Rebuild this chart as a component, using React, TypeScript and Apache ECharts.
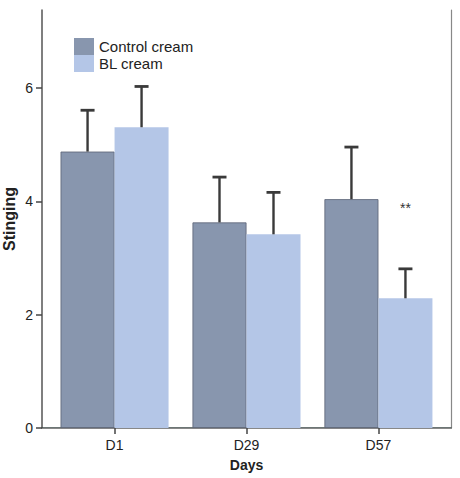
import React, { useEffect, useRef } from "react";
import * as echarts from "echarts";

const categories = ["D1", "D29", "D57"];
const categoryPositions = [1, 2, 3];
const seriesNames = ["Control cream", "BL cream"];
const controlMeans = [4.88, 3.63, 4.04];
const controlUpper = [5.61, 4.43, 4.96];
const blMeans = [5.31, 3.42, 2.29];
const blUpper = [6.03, 4.16, 2.81];
const blSignificance = ["", "", "**"];
const blSignificanceY = [0, 0, 3.88];
const yTicks = [0, 2, 4, 6];

const FONT = "'Liberation Sans', Arial, Helvetica, sans-serif";
const BAR_W = 54;
const COLORS = ["#8896ae", "#b4c6e7"];

export default function App() {
  const ref = useRef<HTMLDivElement>(null);
  useEffect(() => {
    document.body.style.margin = "0";
    const chart = echarts.init(ref.current!, null, { renderer: "svg" });

    const makeErr = (means: number[], upper: number[], side: number, sig: string[], sigY: number[]) => ({
      type: "custom",
      silent: true,
      z: 5,
      data: categoryPositions.map((x, i) => [x, means[i], upper[i], i]),
      encode: { x: 0, y: 2 },
      renderItem: (params: any, api: any) => {
        const x = api.value(0);
        const m = api.value(1);
        const u = api.value(2);
        const idx = api.value(3);
        const base = api.coord([x, m]);
        const top = api.coord([x, u]);
        const cx = base[0] + side * BAR_W / 2;
        const children: any[] = [
          { type: "line", shape: { x1: cx, y1: base[1], x2: cx, y2: top[1] }, style: { stroke: "#3a3a3a", lineWidth: 2.4 } },
          { type: "line", shape: { x1: cx - 7, y1: top[1], x2: cx + 7, y2: top[1] }, style: { stroke: "#3a3a3a", lineWidth: 2.8 } },
        ];
        if (sig[idx]) {
          const p = api.coord([x, sigY[idx]]);
          children.push({
            type: "text",
            style: { text: sig[idx], x: cx, y: p[1], align: "center", verticalAlign: "middle", fill: "#333", font: `14px ${FONT}` },
          });
        }
        return { type: "group", children };
      },
    });

    chart.setOption({
      animation: false,
      textStyle: { fontFamily: FONT },
      grid: { left: 42, top: 10, right: 9, bottom: 50, outerBoundsMode: "none", containLabel: false },
      legend: {
        orient: "vertical",
        left: 74,
        top: 38,
        padding: 0,
        itemWidth: 20,
        itemHeight: 17,
        itemGap: 0,
        icon: "rect",
        itemStyle: { borderWidth: 0 },
        data: seriesNames,
        textStyle: { fontSize: 15, color: "#222", lineHeight: 17, fontFamily: FONT },
      },
      xAxis: [
        {
          type: "value",
          min: 0.45,
          max: 3.55,
          name: "Days",
          nameLocation: "middle",
          nameGap: 30,
          nameTextStyle: { fontWeight: "bold", fontSize: 14, color: "#222", fontFamily: FONT },
          splitLine: { show: false },
          axisLine: { show: true, lineStyle: { color: "#3d4a48", width: 1.5 } },
          axisTick: { show: true, customValues: categoryPositions, length: 6, lineStyle: { color: "#444", width: 1.5 } },
          axisLabel: {
            customValues: categoryPositions,
            formatter: (v: number) => categories[categoryPositions.indexOf(Math.round(v))] ?? "",
            fontSize: 14,
            color: "#222",
            margin: 10,
          },
        },
        {
          type: "value",
          position: "top",
          min: 0.45,
          max: 3.55,
          splitLine: { show: false },
          axisLine: { show: true, lineStyle: { color: "#888", width: 1.2 } },
          axisTick: { show: false },
          axisLabel: { show: false },
        },
      ],
      yAxis: [
        {
          type: "value",
          min: 0,
          max: 7.38,
          name: "Stinging",
          nameLocation: "middle",
          nameGap: 25,
          nameMoveOverlap: false,
          nameTextStyle: { fontWeight: "bold", fontSize: 16, color: "#222", fontFamily: FONT },
          splitLine: { show: false },
          axisLine: { show: true, lineStyle: { color: "#555", width: 1.5 } },
          axisTick: { show: true, customValues: yTicks, length: 6, lineStyle: { color: "#444", width: 1.5 } },
          axisLabel: { customValues: yTicks, fontSize: 14, color: "#222", margin: 9 },
        },
        {
          type: "value",
          position: "right",
          min: 0,
          max: 7.38,
          splitLine: { show: false },
          axisLine: { show: true, lineStyle: { color: "#888", width: 1.2 } },
          axisTick: { show: false },
          axisLabel: { show: false },
        },
      ],
      series: [
        {
          name: seriesNames[0],
          type: "bar",
          barWidth: BAR_W,
          barGap: "0%",
          data: categoryPositions.map((x, i) => [x, controlMeans[i]]),
          itemStyle: { color: COLORS[0], borderColor: "#5a6275", borderWidth: 0.8 },
        },
        {
          name: seriesNames[1],
          type: "bar",
          barWidth: BAR_W,
          barGap: "0%",
          data: categoryPositions.map((x, i) => [x, blMeans[i]]),
          itemStyle: { color: COLORS[1] },
        },
        makeErr(controlMeans, controlUpper, -1, ["", "", ""], [0, 0, 0]),
        makeErr(blMeans, blUpper, 1, blSignificance, blSignificanceY),
      ],
    });
    return () => chart.dispose();
  }, []);
  return <div ref={ref} style={{ width: 460, height: 478 }} />;
}
